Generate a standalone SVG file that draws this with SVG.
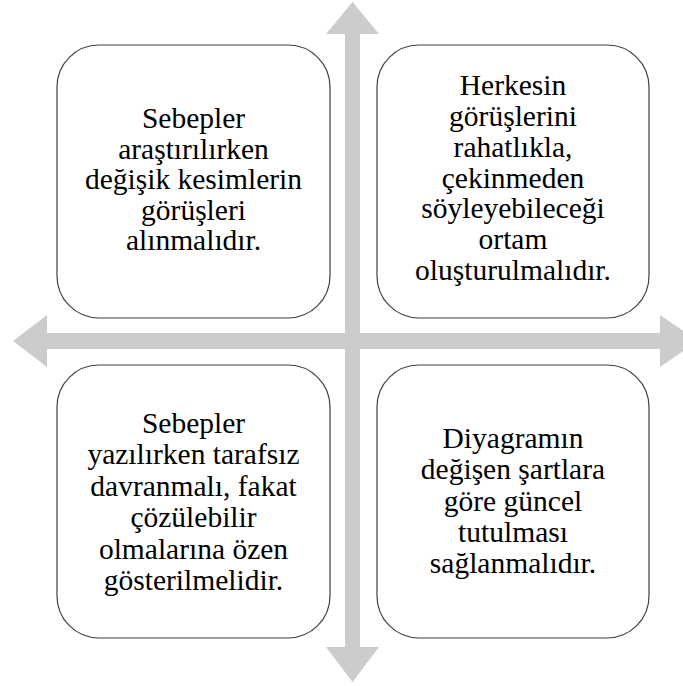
<svg xmlns="http://www.w3.org/2000/svg" width="683" height="686" viewBox="0 0 683 686">
<style>
.box{fill:#ffffff;stroke:#404040;stroke-width:1.2}
.t{font-family:"Liberation Serif","Times New Roman",serif;font-size:29.5px;fill:#000000;text-anchor:middle}
.arrow{fill:#cccccc}
</style>
<rect width="683" height="686" fill="#ffffff"/>
<g id="connectors">
<polygon class="arrow" points="352.5,2 379,34 360,34 360,333 660,333 660,315 698,341 660,367 660,349 360,349 360,647 379,647 352.5,682 326,647 345,647 345,349 47,349 47,367 13,341 47,315 47,333 345,333 345,34 326,34"/>
</g>
<g id="node1">
<rect class="box" x="57" y="45" width="273" height="273" rx="42" ry="42"/>
<text class="t" x="193.5" y="128">Sebepler</text>
<text class="t" x="193.5" y="158.5">araştırılırken</text>
<text class="t" x="193.5" y="189">değişik kesimlerin</text>
<text class="t" x="193.5" y="219.5">görüşleri</text>
<text class="t" x="193.5" y="250">alınmalıdır.</text>
</g>
<g id="node2">
<rect class="box" x="377" y="45" width="272" height="273" rx="42" ry="42"/>
<text class="t" x="513" y="95">Herkesin</text>
<text class="t" x="513" y="126">görüşlerini</text>
<text class="t" x="513" y="156.5">rahatlıkla,</text>
<text class="t" x="513" y="187.5">çekinmeden</text>
<text class="t" x="513" y="218">söyleyebileceği</text>
<text class="t" x="513" y="249">ortam</text>
<text class="t" x="513" y="280">oluşturulmalıdır.</text>
</g>
<g id="node3">
<rect class="box" x="57" y="365" width="273" height="273" rx="42" ry="42"/>
<text class="t" x="193.5" y="432.5">Sebepler</text>
<text class="t" x="193.5" y="464">yazılırken tarafsız</text>
<text class="t" x="193.5" y="495.5">davranmalı, fakat</text>
<text class="t" x="193.5" y="527">çözülebilir</text>
<text class="t" x="193.5" y="558.5">olmalarına özen</text>
<text class="t" x="193.5" y="590">gösterilmelidir.</text>
</g>
<g id="node4">
<rect class="box" x="377" y="365" width="272" height="273" rx="42" ry="42"/>
<text class="t" x="513" y="448">Diyagramın</text>
<text class="t" x="513" y="479">değişen şartlara</text>
<text class="t" x="513" y="510.5">göre güncel</text>
<text class="t" x="513" y="542">tutulması</text>
<text class="t" x="513" y="573">sağlanmalıdır.</text>
</g>
</svg>
